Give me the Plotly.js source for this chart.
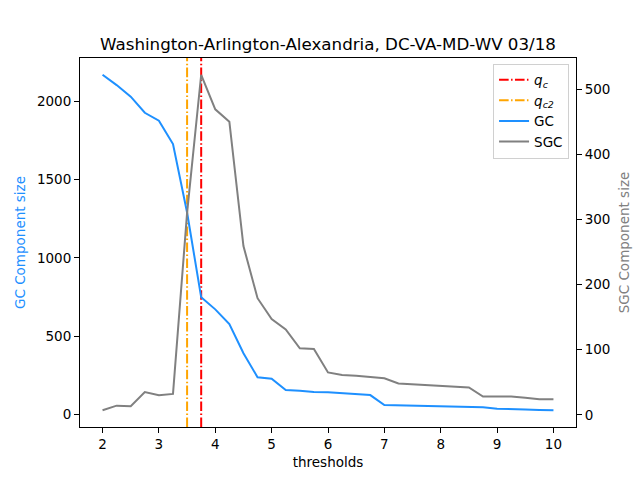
<!DOCTYPE html>
<html>
<head>
<meta charset="utf-8">
<script src="https://cdn.plot.ly/plotly-3.0.1.min.js"></script>
<style>
  body { margin: 0; padding: 0; background: #fff; }
  #chart { width: 640px; height: 480px; }
</style>
</head>
<body>
<div id="chart"></div>
<script>
var thresholds = [2, 2.25, 2.5, 2.75, 3, 3.25, 3.5, 3.75, 4, 4.25, 4.5, 4.75, 5, 5.25, 5.5, 5.75,
                  6, 6.25, 6.5, 6.75, 7, 7.25, 7.5, 7.75, 8, 8.25, 8.5, 8.75, 9, 9.25, 9.5, 9.75, 10];
var gc_size = [2171, 2105, 2031, 1928, 1877, 1728, 1290, 748, 671, 577, 390, 237, 228, 155, 151, 143,
               141, 134, 128, 123, 59, 57, 56, 54, 53, 52, 49, 45, 36, 35, 31, 28, 26];
var sgc_size = [7, 14, 13, 35, 30, 32, 310, 522, 469, 450, 259, 179, 147, 131, 102, 101,
                65, 61, 60, 58, 56, 48, 47, 46, 45, 43, 42, 28, 28, 28, 26, 24, 24];
var q_c = 3.75;
var q_c2 = 3.5;

var font_family = "DejaVu Sans, sans-serif";

// matplotlib style autoscale: 5% margins
function padRange(vals) {
    var lo = Math.min.apply(null, vals);
    var hi = Math.max.apply(null, vals);
    var m = (hi - lo) * 0.05;
    return [lo - m, hi + m];
}

var x_range = padRange(thresholds);
var y_range = padRange(gc_size);
var y2_range = padRange(sgc_size);

var lwid = 2;
var dashdot = "9.6px,2.4px,1.5px,2.4px";

var qc_trace = {
    x: [q_c, q_c],
    y: y_range,
    type: 'scatter',
    mode: 'lines',
    name: '<i>q</i><sub><i>c</i></sub>',
    line: { color: 'red', width: lwid, dash: dashdot },
    yaxis: 'y'
};

var qc2_trace = {
    x: [q_c2, q_c2],
    y: y_range,
    type: 'scatter',
    mode: 'lines',
    name: '<i>q</i><sub><i>c2</i></sub>',
    line: { color: 'orange', width: lwid, dash: dashdot },
    yaxis: 'y'
};

var gc_trace = {
    x: thresholds,
    y: gc_size,
    type: 'scatter',
    mode: 'lines',
    name: 'GC',
    line: { color: '#1E90FF', width: lwid },
    yaxis: 'y'
};

var sgc_trace = {
    x: thresholds,
    y: sgc_size,
    type: 'scatter',
    mode: 'lines',
    name: 'SGC',
    line: { color: 'gray', width: lwid },
    yaxis: 'y2'
};

var tick_font = { family: font_family, size: 13.5, color: 'black' };

var layout = {
    width: 640,
    height: 480,
    margin: { l: 80, r: 64, t: 58, b: 53 },
    paper_bgcolor: 'white',
    plot_bgcolor: 'white',
    font: { family: font_family, size: 13.5, color: 'black' },
    showlegend: true,
    title: {
        text: 'Washington-Arlington-Alexandria, DC-VA-MD-WV 03/18',
        font: { family: font_family, size: 16.7, color: 'black' },
        x: 0.5,
        xref: 'paper',
        xanchor: 'center',
        y: 0.908,
        yanchor: 'middle'
    },
    xaxis: {
        range: x_range,
        dtick: 1,
        tick0: 2,
        showgrid: false,
        zeroline: false,
        showline: true,
        mirror: true,
        linecolor: 'black',
        linewidth: 1,
        ticks: 'outside',
        ticklen: 5,
        tickcolor: 'black',
        tickfont: tick_font,
        title: { text: 'thresholds', font: { family: font_family, size: 13.5, color: 'black' }, standoff: 6 }
    },
    yaxis: {
        range: y_range,
        dtick: 500,
        tick0: 0,
        showgrid: false,
        zeroline: false,
        showline: true,
        linecolor: 'black',
        linewidth: 1,
        ticks: 'outside',
        ticklen: 5,
        tickcolor: 'black',
        tickfont: tick_font,
        title: { text: 'GC Component size', font: { family: font_family, size: 13.5, color: '#1E90FF' }, standoff: 8 }
    },
    yaxis2: {
        range: y2_range,
        dtick: 100,
        tick0: 0,
        overlaying: 'y',
        side: 'right',
        showgrid: false,
        zeroline: false,
        showline: true,
        linecolor: 'black',
        linewidth: 1,
        ticks: 'outside',
        ticklen: 5,
        tickcolor: 'black',
        tickfont: tick_font,
        title: { text: 'SGC Component size', font: { family: font_family, size: 13.5, color: 'gray' }, standoff: 10 }
    },
    legend: {
        x: 0.986,
        y: 0.985,
        xanchor: 'right',
        yanchor: 'top',
        bgcolor: 'rgba(255,255,255,0.8)',
        bordercolor: '#d0d0d0',
        borderwidth: 1,
        font: { family: font_family, size: 13.5, color: 'black' },
        tracegroupgap: 0,
        itemwidth: 30
    }
};

Plotly.newPlot('chart', [qc_trace, qc2_trace, gc_trace, sgc_trace], layout, { displayModeBar: false, staticPlot: true });
</script>
</body>
</html>
